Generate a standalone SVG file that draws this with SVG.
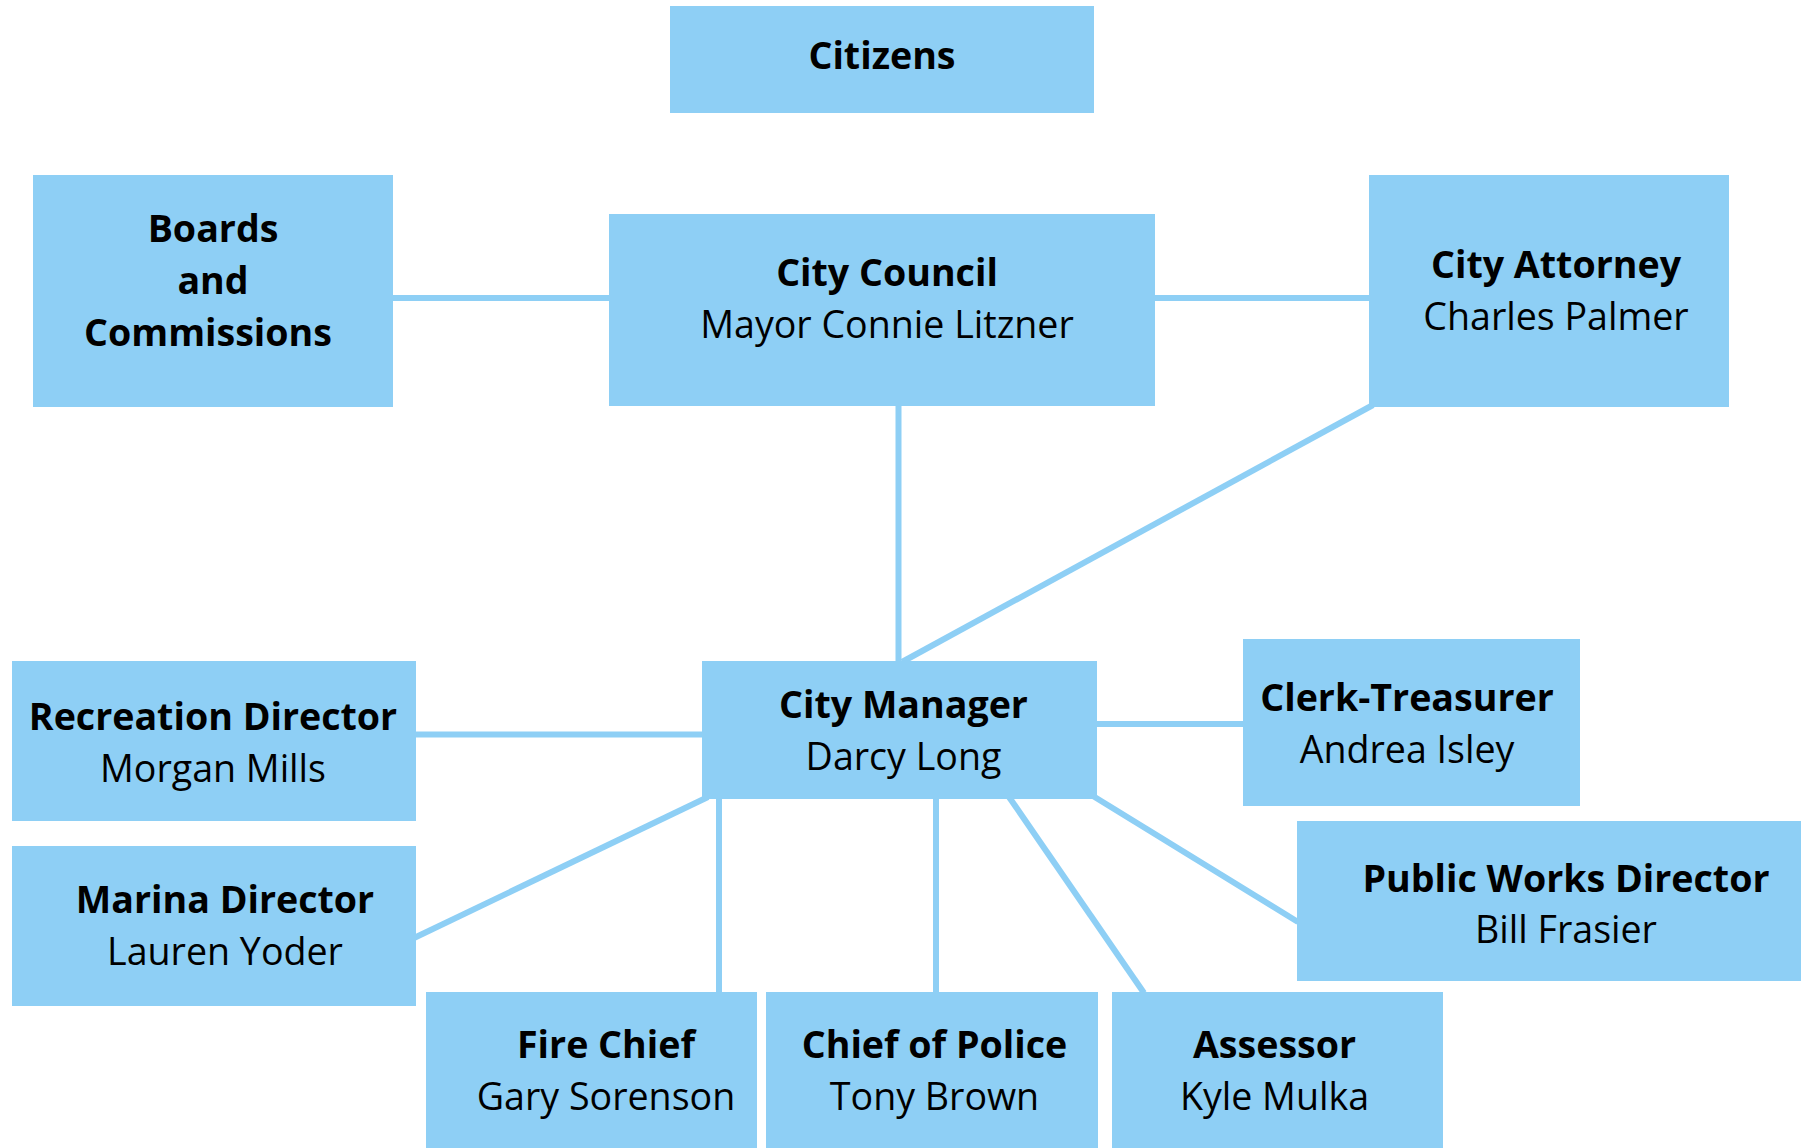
<svg xmlns="http://www.w3.org/2000/svg" width="1805" height="1148" viewBox="0 0 1805 1148">
  <style>
    .box { fill: #8ECFF5; }
    .link { stroke: #8ECFF5; stroke-width: 6; fill: none; }
    text { font-family: "Open Sans", "Noto Sans", "Liberation Sans", sans-serif; font-size: 37.6px; fill: #000; text-anchor: middle; }
    .title { font-weight: bold; }
  </style>
  <rect width="1805" height="1148" fill="#fff"/>

  <!-- reporting lines -->
  <g id="connectors">
    <line class="link" x1="393" y1="298" x2="609" y2="298"/>
    <line class="link" x1="1155" y1="298" x2="1369" y2="298"/>
    <line class="link" x1="898.5" y1="405" x2="898.5" y2="662"/>
    <line class="link" x1="1373" y1="405" x2="902" y2="662"/>
    <line class="link" x1="415" y1="734.5" x2="703" y2="734.5"/>
    <line class="link" x1="1096" y1="724" x2="1244" y2="724"/>
    <line class="link" x1="708" y1="797" x2="414" y2="938"/>
    <line class="link" x1="719" y1="798" x2="719" y2="993"/>
    <line class="link" x1="936" y1="798" x2="936" y2="993"/>
    <line class="link" x1="1009" y1="797" x2="1144" y2="993"/>
    <line class="link" x1="1093" y1="796" x2="1298" y2="922"/>
  </g>

  <g id="citizens">
    <rect class="box" x="670" y="6" width="424" height="107"/>
    <text class="title" x="882" y="69">Citizens</text>
  </g>

  <g id="boards">
    <rect class="box" x="33" y="175" width="360" height="232"/>
    <text class="title" x="213" y="242">Boards</text>
    <text class="title" x="213" y="294">and</text>
    <text class="title" x="208" y="346">Commissions</text>
  </g>

  <g id="city-council">
    <rect class="box" x="609" y="214" width="546" height="192"/>
    <text class="title" x="887" y="286">City Council</text>
    <text x="887" y="338">Mayor Connie Litzner</text>
  </g>

  <g id="city-attorney">
    <rect class="box" x="1369" y="175" width="360" height="232"/>
    <text class="title" x="1556" y="278">City Attorney</text>
    <text x="1556" y="330">Charles Palmer</text>
  </g>

  <g id="city-manager">
    <rect class="box" x="702" y="661" width="395" height="138"/>
    <text class="title" x="903.5" y="718">City Manager</text>
    <text x="903.5" y="770">Darcy Long</text>
  </g>

  <g id="recreation">
    <rect class="box" x="12" y="661" width="404" height="160"/>
    <text class="title" x="213" y="730">Recreation Director</text>
    <text x="213" y="782">Morgan Mills</text>
  </g>

  <g id="clerk-treasurer">
    <rect class="box" x="1243" y="639" width="337" height="167"/>
    <text class="title" x="1407" y="711">Clerk-Treasurer</text>
    <text x="1407" y="763">Andrea Isley</text>
  </g>

  <g id="marina">
    <rect class="box" x="12" y="846" width="404" height="160"/>
    <text class="title" x="225" y="913">Marina Director</text>
    <text x="225" y="965">Lauren Yoder</text>
  </g>

  <g id="public-works">
    <rect class="box" x="1297" y="821" width="504" height="160"/>
    <text class="title" x="1566" y="892">Public Works Director</text>
    <text x="1566" y="943">Bill Frasier</text>
  </g>

  <g id="fire-chief">
    <rect class="box" x="426" y="992" width="331" height="156"/>
    <text class="title" x="606" y="1058">Fire Chief</text>
    <text x="606" y="1110">Gary Sorenson</text>
  </g>

  <g id="police-chief">
    <rect class="box" x="766" y="992" width="332" height="156"/>
    <text class="title" x="934.5" y="1058">Chief of Police</text>
    <text x="934.5" y="1110">Tony Brown</text>
  </g>

  <g id="assessor">
    <rect class="box" x="1112" y="992" width="331" height="156"/>
    <text class="title" x="1274.5" y="1058">Assessor</text>
    <text x="1274.5" y="1110">Kyle Mulka</text>
  </g>
</svg>
